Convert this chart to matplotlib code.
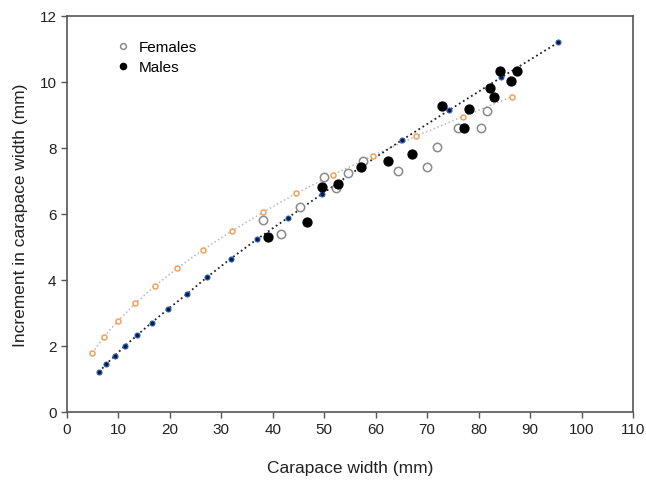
import matplotlib
matplotlib.use('Agg')
from matplotlib import pyplot as plt

plt.rcParams['font.family'] = ['Liberation Sans', 'DejaVu Sans']

# fitted growth curve, females (orange open circles)
fem_fit_x = [4.95, 7.22, 10.0, 13.3, 17.2, 21.5, 26.4, 32.0, 38.1, 44.6, 51.7, 59.5, 67.9, 76.9, 86.4]
fem_fit_y = [1.79, 2.28, 2.77, 3.29, 3.83, 4.36, 4.91, 5.48, 6.05, 6.63, 7.19, 7.77, 8.36, 8.95, 9.55]

# fitted growth curve, males (navy dots)
male_fit_x = [6.25, 7.67, 9.36, 11.3, 13.6, 16.5, 19.6, 23.3, 27.2, 31.8, 37.0, 43.0, 49.6, 57.1, 65.1, 74.3, 84.4, 95.5]
male_fit_y = [1.21, 1.45, 1.71, 2.0, 2.32, 2.71, 3.11, 3.57, 4.08, 4.64, 5.24, 5.89, 6.61, 7.42, 8.24, 9.15, 10.14, 11.2]

# observed increments
fem_x = [38.2, 41.7, 45.3, 50.0, 52.2, 54.6, 57.6, 64.3, 69.9, 72.0, 76.0, 80.5, 81.7]
fem_y = [5.81, 5.40, 6.20, 7.11, 6.80, 7.23, 7.62, 7.31, 7.41, 8.02, 8.62, 8.62, 9.12]

male_x = [39.1, 46.6, 49.6, 52.7, 57.1, 62.4, 67.1, 72.8, 77.1, 78.1, 82.3, 82.9, 84.1, 86.2, 87.4]
male_y = [5.31, 5.76, 6.81, 6.91, 7.42, 7.62, 7.82, 9.26, 8.62, 9.17, 9.82, 9.56, 10.32, 10.02, 10.32]

fig = plt.figure(figsize=(6.46, 4.81), dpi=100)
ax = fig.add_axes([0.1034, 0.1414, 0.8766, 0.8233])

ax.plot(fem_fit_x, fem_fit_y, ':', color='#b8b8b8', lw=1.1, zorder=1)
ax.plot(fem_fit_x, fem_fit_y, 'o', ms=3.6, mfc='white', mec='#f5a05a', mew=1.1, zorder=2)
ax.plot(male_fit_x, male_fit_y, ':', color='#222222', lw=1.3, zorder=1)
ax.plot(male_fit_x, male_fit_y, 'o', ms=3.6, mfc='#0b1a40', mec='#2d63c0', mew=0.8, zorder=2)

ax.plot(fem_x, fem_y, 'o', ms=6.0, mfc='white', mec='#8a8a8a', mew=1.1, zorder=3, label='Females')
ax.plot(male_x, male_y, 'o', ms=6.4, mfc='black', mec='black', zorder=4, label='Males')

ax.set_xlim(0, 110)
ax.set_ylim(0, 12)
ax.set_xticks(range(0, 111, 10))
ax.set_yticks(range(0, 13, 2))
ax.tick_params(direction='out', length=4, width=1, color='#555555', labelsize=11, labelcolor='#222222')
for s in ax.spines.values():
    s.set_color('#555555')
    s.set_linewidth(1.2)

ax.set_xlabel('Carapace width (mm)', fontsize=12.5, color='#222222', labelpad=17)
ax.set_ylabel('Increment in carapace width (mm)', fontsize=12.5, color='#222222', labelpad=8)

ax.legend(loc='upper left', bbox_to_anchor=(0.075, 0.955), frameon=False, fontsize=11,
          handletextpad=0.55, borderaxespad=0, labelspacing=0.4, handlelength=1, markerscale=0.7)

plt.savefig('out.png', dpi=100)
